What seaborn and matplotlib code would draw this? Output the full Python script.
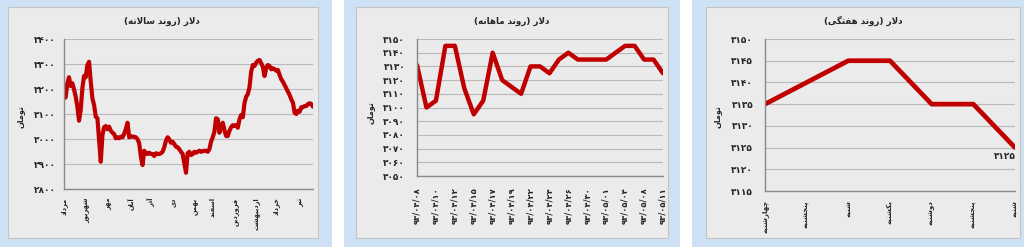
import numpy as np
import pandas as pd
import matplotlib
matplotlib.use("Agg")
import matplotlib.pyplot as plt
from matplotlib.patches import Rectangle
import seaborn as sns

# ---------------- data ----------------
yearly_values = [3163, 3167, 3223, 3247, 3212, 3223, 3199, 3169, 3129, 3073,
                 3116, 3203, 3252, 3247, 3296, 3309, 3229, 3163, 3136, 3089,
                 3083, 2996, 2909, 3016, 3047, 3052, 3039, 3049, 3033, 3025,
                 3020, 3003, 3007, 3003, 3009, 3007, 3020, 3040, 3065, 3007,
                 3012, 3009, 3009, 3007, 2999, 2983, 2929, 2896, 2953, 2943,
                 2940, 2945, 2940, 2940, 2932, 2943, 2940, 2940, 2943, 2949,
                 2967, 2993, 3007, 2999, 2985, 2989, 2980, 2969, 2967, 2959,
                 2949, 2940, 2903, 2865, 2943, 2949, 2936, 2940, 2949, 2945,
                 2949, 2953, 2949, 2951, 2953, 2953, 2949, 2959, 2989, 3007,
                 3029, 3083, 3079, 3025, 3047, 3065, 3036, 3012, 3012, 3033,
                 3047, 3055, 3052, 3056, 3045, 3079, 3096, 3087, 3143, 3169,
                 3180, 3207, 3269, 3296, 3292, 3305, 3313, 3316, 3303, 3289,
                 3252, 3283, 3296, 3292, 3279, 3283, 3279, 3273, 3276, 3256,
                 3239, 3229, 3216, 3203, 3189, 3176, 3159, 3145, 3105, 3100,
                 3113, 3109, 3127, 3127, 3132, 3132, 3140, 3143, 3140, 3129]
yearly_months = ["مرداد", "شهریور", "مهر", "آبان", "آذر", "دی", "بهمن",
                 "اسفند", "فروردین", "اردیبهشت", "خرداد", "تیر"]
yearly_month_idx = [0, 14, 27, 40, 52, 65, 79, 89, 103, 115, 127, 142]

monthly_values = [3131, 3100, 3105, 3145, 3145, 3114, 3095, 3105, 3140, 3120,
                  3115, 3110, 3130, 3130, 3125, 3135, 3140, 3135, 3135, 3135,
                  3135, 3140, 3145, 3145, 3135, 3135, 3125]
monthly_labels = ["۹۳/۰۴/۰۸", "۹۳/۰۴/۱۰", "۹۳/۰۴/۱۲", "۹۳/۰۴/۱۵", "۹۳/۰۴/۱۷",
                  "۹۳/۰۴/۱۹", "۹۳/۰۴/۲۲", "۹۳/۰۴/۲۴", "۹۳/۰۴/۲۶", "۹۳/۰۴/۳۰",
                  "۹۳/۰۵/۰۱", "۹۳/۰۵/۰۴", "۹۳/۰۵/۰۸", "۹۳/۰۵/۱۱"]

weekly_days = ["چهارشنبه", "پنجشنبه", "شنبه", "یکشنبه", "دوشنبه", "پنجشنبه", "شنبه"]
weekly_values = [3135, 3140, 3145, 3145, 3135, 3135, 3125]

titles = ["دلار (روند سالانه)", "دلار (روند ماهانه)", "دلار (روند هفتگی)"]
ylabel_text = "تومان"

# ---------------- minimal Persian shaping (matplotlib has no bidi) ----------------
FORMS = {
    'ا': ('\uFE8D', '\uFE8E', None, None),
    'آ': ('\uFE81', '\uFE82', None, None),
    'ب': ('\uFE8F', '\uFE90', '\uFE91', '\uFE92'),
    'پ': ('\uFB56', '\uFB57', '\uFB58', '\uFB59'),
    'ت': ('\uFE95', '\uFE96', '\uFE97', '\uFE98'),
    'ج': ('\uFE9D', '\uFE9E', '\uFE9F', '\uFEA0'),
    'چ': ('\uFB7A', '\uFB7B', '\uFB7C', '\uFB7D'),
    'خ': ('\uFEA5', '\uFEA6', '\uFEA7', '\uFEA8'),
    'د': ('\uFEA9', '\uFEAA', None, None),
    'ذ': ('\uFEAB', '\uFEAC', None, None),
    'ر': ('\uFEAD', '\uFEAE', None, None),
    'ز': ('\uFEAF', '\uFEB0', None, None),
    'س': ('\uFEB1', '\uFEB2', '\uFEB3', '\uFEB4'),
    'ش': ('\uFEB5', '\uFEB6', '\uFEB7', '\uFEB8'),
    'ف': ('\uFED1', '\uFED2', '\uFED3', '\uFED4'),
    'ک': ('\uFB8E', '\uFB8F', '\uFB90', '\uFB91'),
    'گ': ('\uFB92', '\uFB93', '\uFB94', '\uFB95'),
    'ل': ('\uFEDD', '\uFEDE', '\uFEDF', '\uFEE0'),
    'م': ('\uFEE1', '\uFEE2', '\uFEE3', '\uFEE4'),
    'ن': ('\uFEE5', '\uFEE6', '\uFEE7', '\uFEE8'),
    'و': ('\uFEED', '\uFEEE', None, None),
    'ه': ('\uFEE9', '\uFEEA', '\uFEEB', '\uFEEC'),
    'ی': ('\uFBFC', '\uFBFD', '\uFBFE', '\uFBFF'),
}


def joins_next(c):
    return c in FORMS and FORMS[c][2] is not None


def shape(text):
    chars = list(text)
    out = []
    i, n = 0, len(chars)
    while i < n:
        c = chars[i]
        if c not in FORMS:
            out.append(c)
            i += 1
            continue
        pj = i > 0 and joins_next(chars[i - 1])
        if c == 'ل' and i + 1 < n and chars[i + 1] == 'ا':
            out.append('\uFEFC' if pj else '\uFEFB')
            i += 2
            continue
        nj = joins_next(c) and i + 1 < n and chars[i + 1] in FORMS
        iso, fin, ini, med = FORMS[c]
        if pj and nj:
            f = med
        elif pj:
            f = fin
        elif nj:
            f = ini
        else:
            f = iso
        out.append(f)
        i += 1
    s = ''.join(out)[::-1]
    return s.translate(str.maketrans('()', ')('))


FA_DIGITS = str.maketrans('0123456789', '۰۱۲۳۴۵۶۷۸۹')


def fa_num(v):
    return str(int(round(v))).translate(FA_DIGITS)


# ---------------- style ----------------
sns.set_style("white")
plt.rcParams['font.family'] = ['DejaVu Sans']

LINE = '#c00000'
GRID = '#b9b9b9'
SPINE = '#8a8a8a'
BLUE = '#cfe1f4'
BOX = '#ebebeb'

W, H = 1024, 247
fig = plt.figure(figsize=(W / 100, H / 100), dpi=100, facecolor='white')


def fx(px):
    return px / W


def fy(py):
    return 1 - py / H


# decorative backgrounds
for x0, x1 in [(0, 332), (344, 680), (692, 1024)]:
    fig.patches.append(Rectangle((fx(x0), 0), fx(x1 - x0), 1, transform=fig.transFigure,
                                 facecolor=BLUE, edgecolor='none', zorder=-3))
for x0, x1 in [(8, 318), (356, 668), (706, 1020)]:
    fig.patches.append(Rectangle((fx(x0), fy(238)), fx(x1 - x0), (238 - 7) / H,
                                 transform=fig.transFigure, facecolor=BOX,
                                 edgecolor='#c4c4c4', linewidth=0.8, zorder=-2))


def make_axes(l, r, t, b):
    ax = fig.add_axes([fx(l), fy(b), fx(r - l), (b - t) / H])
    ax.set_facecolor('none')
    for s in ['top', 'right']:
        ax.spines[s].set_visible(False)
    for s in ['left', 'bottom']:
        ax.spines[s].set_color(SPINE)
        ax.spines[s].set_linewidth(1.0)
    ax.grid(axis='y', color=GRID, linewidth=0.8)
    ax.grid(axis='x', visible=False)
    ax.set_axisbelow(True)
    ax.tick_params(length=0)
    return ax


def finish(ax, yticks, ypad, xpad, title_xy, ylabel_xy):
    ax.set_yticks(yticks)
    ax.set_yticklabels([fa_num(v) for v in yticks], fontsize=6.5, fontweight='bold')
    ax.tick_params(axis='y', pad=ypad)
    ax.tick_params(axis='x', pad=xpad)
    ax.set_xlabel('')
    ax.set_ylabel('')
    fig.text(fx(title_xy[0]), fy(title_xy[1]), shape(title_xy[2]), ha='center', va='center',
             fontsize=6.3, fontweight='bold')
    fig.text(fx(ylabel_xy[0]), fy(ylabel_xy[1]), shape(ylabel_text), ha='center', va='center',
             rotation=90, fontsize=5.8, fontweight='bold')


# ---------- panel 1: yearly ----------
df1 = pd.DataFrame({'i': np.arange(len(yearly_values)), 'v': yearly_values})
ax1 = make_axes(64, 313, 39, 189)
sns.lineplot(data=df1, x='i', y='v', ax=ax1, color=LINE, linewidth=3.0)
ax1.set_xlim(0, len(yearly_values) - 1)
ax1.set_ylim(2800, 3400)
ax1.set_xticks(yearly_month_idx)
ax1.set_xticklabels([shape(m) for m in yearly_months], rotation=90, fontsize=4.8,
                    fontweight='bold')
finish(ax1, list(range(2800, 3401, 100)), 6, 6, (162, 21, titles[0]), (20, 117))

# ---------- panel 2: monthly ----------
df2 = pd.DataFrame({'i': np.arange(len(monthly_values)), 'v': monthly_values})
ax2 = make_axes(417, 663, 39, 176)
sns.lineplot(data=df2, x='i', y='v', ax=ax2, color=LINE, linewidth=3.2)
ax2.set_xlim(0, len(monthly_values) - 1)
ax2.set_ylim(3050, 3150)
ax2.set_xticks(np.arange(0, len(monthly_values), 2))
ax2.set_xticklabels(monthly_labels, rotation=90, fontsize=6, fontweight='bold')
finish(ax2, list(range(3050, 3151, 10)), 8.5, 8, (512, 21, titles[1]), (370, 113))

# ---------- panel 3: weekly ----------
df3 = pd.DataFrame({'i': np.arange(len(weekly_values)), 'v': weekly_values})
ax3 = make_axes(765, 1015, 39, 191)
sns.lineplot(data=df3, x='i', y='v', ax=ax3, color=LINE, linewidth=3.4)
ax3.set_xlim(0, len(weekly_values) - 1)
ax3.set_ylim(3115, 3150)
ax3.set_xticks(np.arange(len(weekly_days)))
ax3.set_xticklabels([shape(d) for d in weekly_days], rotation=90, fontsize=5,
                    fontweight='bold')
finish(ax3, list(range(3115, 3151, 5)), 8.5, 6.5, (863, 21, titles[2]), (717, 117))
ax3.annotate(fa_num(weekly_values[-1]), xy=(len(weekly_values) - 1, weekly_values[-1]),
             xytext=(-7, -3), textcoords='offset points', ha='center', va='top',
             fontsize=6.5, fontweight='bold', annotation_clip=False)

fig.savefig('out.png', dpi=100, facecolor='white')
